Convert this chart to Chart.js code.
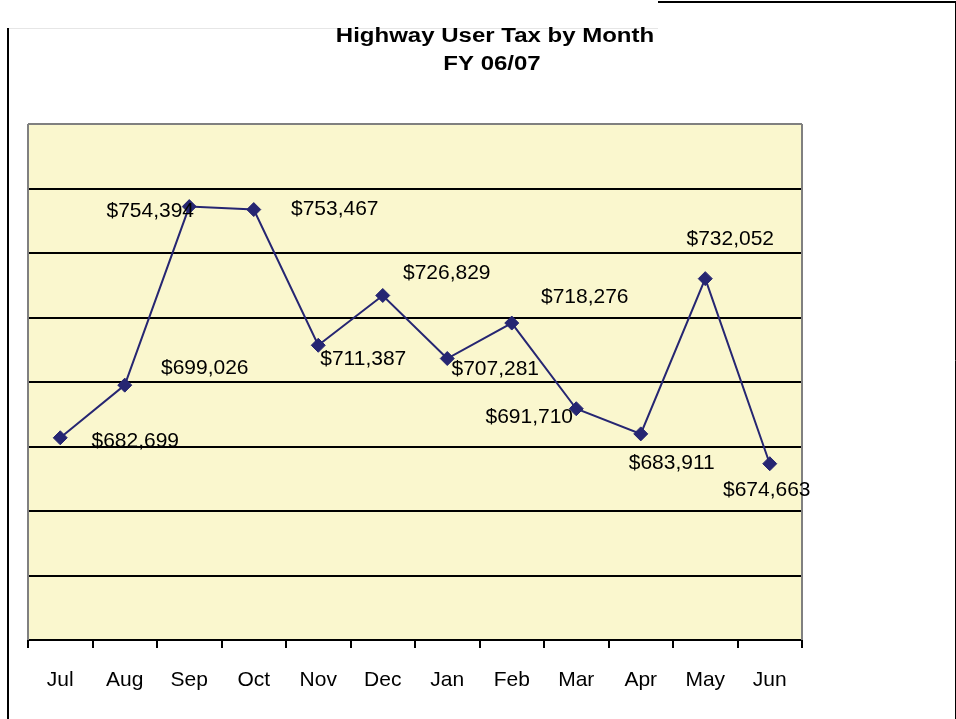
<!DOCTYPE html>
<html>
<head>
<meta charset="utf-8">
<title>Highway User Tax by Month</title>
<script src="https://cdn.jsdelivr.net/npm/chart.js@4.4.1/dist/chart.umd.min.js"></script>
<style>
    html, body { margin: 0; padding: 0; background: #ffffff; }
    #chartWrap { position: relative; width: 956px; height: 719px; }
</style>
</head>
<body>
<div id="chartWrap"><canvas id="taxChart" width="956" height="719"></canvas></div>
<script>
// Chart data
const months = ['Jul', 'Aug', 'Sep', 'Oct', 'Nov', 'Dec', 'Jan', 'Feb', 'Mar', 'Apr', 'May', 'Jun'];
const taxValues = [682699, 699026, 754394, 753467, 711387, 726829, 707281, 718276, 691710, 683911, 732052, 674663];
const titleLines = ['Highway User Tax by Month', 'FY 06/07'];
const yMin = 620000;
const yMax = 780000;
const yStep = 20000;

// Where each value label sits relative to its point (pixels)
const labelOffsets = [
    [75, 3], [80, -17], [-39, 5], [81, 0], [45, 14], [64, -22],
    [48, 11], [73, -26], [-47, 8], [31, 29], [25, -39], [-3, 26]
];

const FONT = "'Liberation Sans', Arial, sans-serif";
const LINE_COLOR = '#262672';

function formatDollars(v) {
    return '$' + v.toLocaleString('en-US');
}

// Title drawn a little stretched, like the original
function drawWideText(ctx, text, cx, cy, stretch) {
    ctx.save();
    ctx.translate(cx, cy);
    ctx.scale(stretch, 1);
    ctx.fillText(text, 0, 0);
    ctx.restore();
}

// Frame, plot background and borders
const backdropPlugin = {
    id: 'backdrop',
    beforeDraw(chart) {
        const ctx = chart.ctx;
        const area = chart.chartArea;
        ctx.save();
        ctx.fillStyle = '#ffffff';
        ctx.fillRect(0, 0, chart.width, chart.height);

        // outer frame pieces
        ctx.strokeStyle = '#e6e6e6';
        ctx.lineWidth = 1;
        ctx.beginPath();
        ctx.moveTo(8, 28.5);
        ctx.lineTo(658, 28.5);
        ctx.stroke();

        ctx.strokeStyle = '#000000';
        ctx.lineWidth = 2;
        ctx.beginPath();
        ctx.moveTo(8, 28);
        ctx.lineTo(8, chart.height);
        ctx.stroke();

        ctx.beginPath();
        ctx.moveTo(658, 2);
        ctx.lineTo(chart.width, 2);
        ctx.stroke();

        ctx.lineWidth = 1;
        ctx.beginPath();
        ctx.moveTo(955.5, 2);
        ctx.lineTo(955.5, chart.height);
        ctx.stroke();

        // plot area fill
        ctx.fillStyle = '#faf7ce';
        ctx.fillRect(area.left, area.top, area.right - area.left, area.bottom - area.top);

        // title
        ctx.fillStyle = '#000000';
        ctx.font = 'bold 20px ' + FONT;
        ctx.textAlign = 'center';
        ctx.textBaseline = 'middle';
        drawWideText(ctx, titleLines[0], 495, 36, 1.2);
        drawWideText(ctx, titleLines[1], 492, 64, 1.2);
        ctx.restore();
    },
    beforeDatasetsDraw(chart) {
        const ctx = chart.ctx;
        const area = chart.chartArea;
        ctx.save();
        ctx.strokeStyle = '#808080';
        ctx.lineWidth = 2;
        ctx.beginPath();
        ctx.moveTo(area.left, area.top);
        ctx.lineTo(area.left, area.bottom);
        ctx.moveTo(area.right, area.top);
        ctx.lineTo(area.right, area.bottom);
        ctx.stroke();
        ctx.restore();
    }
};

// Value labels next to each point
const valueLabelPlugin = {
    id: 'valueLabels',
    afterDatasetsDraw(chart) {
        const ctx = chart.ctx;
        const meta = chart.getDatasetMeta(0);
        ctx.save();
        ctx.fillStyle = '#000000';
        ctx.font = '21px ' + FONT;
        ctx.textAlign = 'center';
        ctx.textBaseline = 'middle';
        meta.data.forEach((pt, i) => {
            const off = labelOffsets[i];
            ctx.fillText(formatDollars(taxValues[i]), pt.x + off[0], pt.y + off[1]);
        });
        ctx.restore();
    }
};

const ctx = document.getElementById('taxChart').getContext('2d');
const taxChart = new Chart(ctx, {
    type: 'line',
    data: {
        labels: months,
        datasets: [{
            label: 'Highway User Tax',
            data: taxValues,
            borderColor: LINE_COLOR,
            backgroundColor: LINE_COLOR,
            borderWidth: 2,
            pointStyle: 'rectRot',
            pointRadius: 7,
            pointBorderWidth: 1,
            pointBorderColor: LINE_COLOR,
            pointBackgroundColor: LINE_COLOR,
            tension: 0
        }]
    },
    options: {
        responsive: false,
        animation: false,
        layout: {
            padding: { left: 28, right: 154, top: 124, bottom: 0 }
        },
        plugins: {
            legend: { display: false },
            title: { display: false },
            tooltip: { enabled: false }
        },
        scales: {
            x: {
                offset: true,
                grid: {
                    offset: true,
                    drawOnChartArea: false,
                    color: '#000000',
                    lineWidth: 2,
                    tickLength: 8
                },
                border: { color: '#000000', width: 2 },
                ticks: {
                    color: '#000000',
                    padding: 20,
                    maxRotation: 0,
                    autoSkip: false,
                    font: { family: FONT, size: 21 }
                },
                afterFit(scale) {
                    scale.height = 79;
                }
            },
            y: {
                min: yMin,
                max: yMax,
                ticks: { display: false, stepSize: yStep },
                grid: {
                    drawTicks: false,
                    lineWidth: 2,
                    color: c => (c.tick && c.tick.value === yMax ? '#808080' : '#000000')
                },
                border: { display: false },
                afterFit(scale) {
                    scale.width = 0;
                }
            }
        }
    },
    plugins: [backdropPlugin, valueLabelPlugin]
});
</script>
</body>
</html>
